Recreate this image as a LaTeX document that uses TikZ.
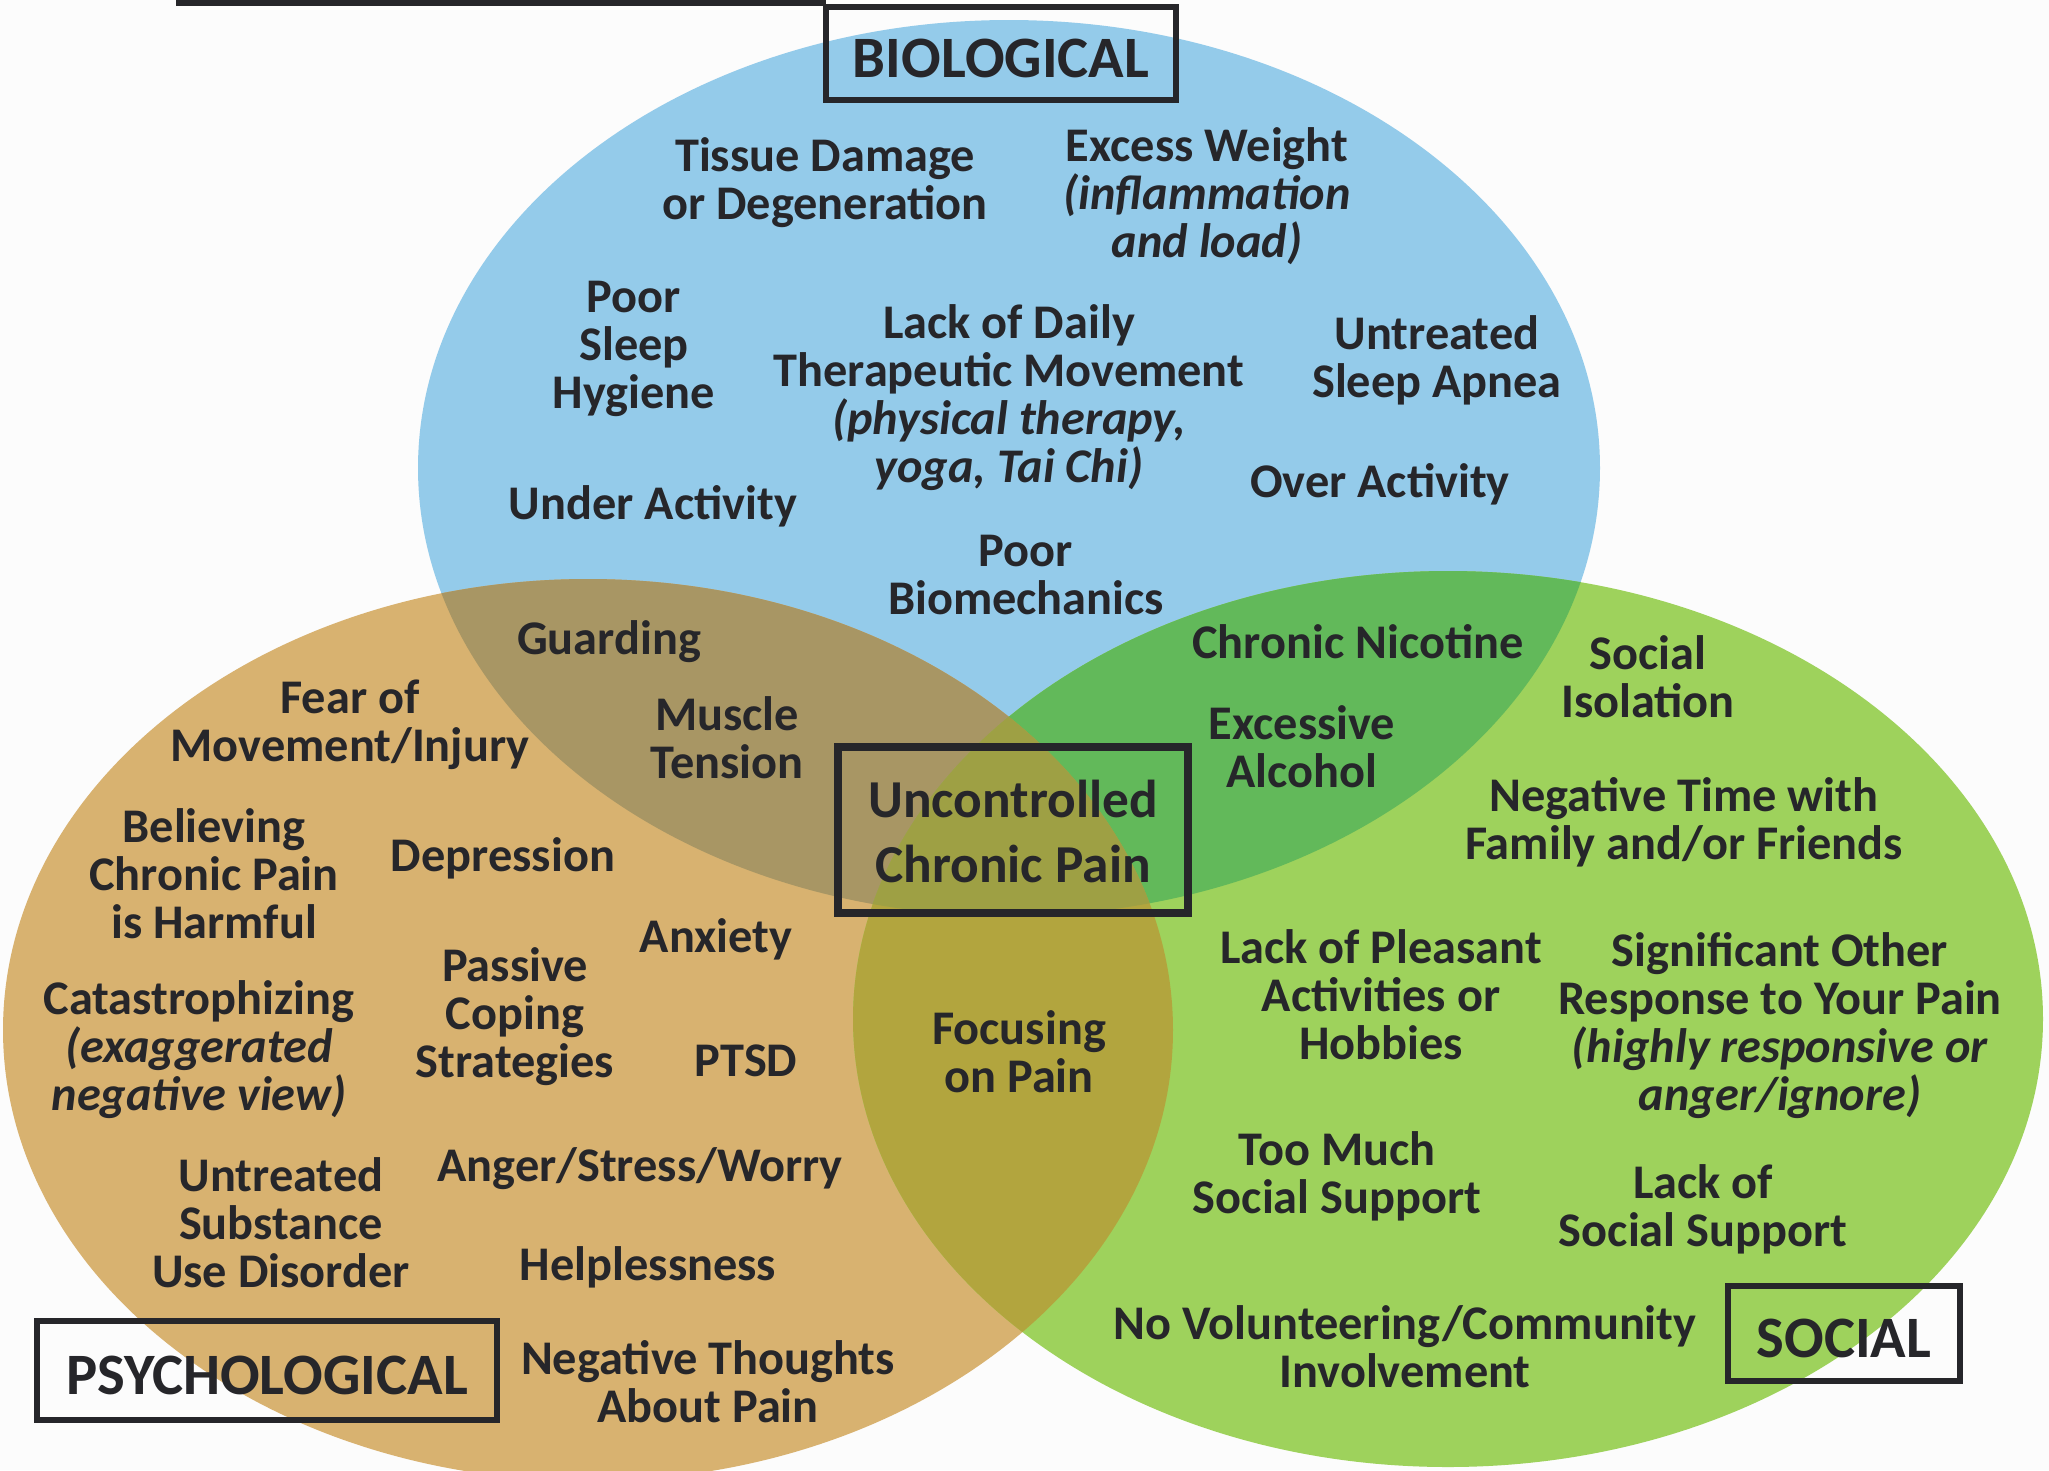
\documentclass[tikz,border=0pt]{standalone}
\usepackage{fontspec}
\setmainfont{Carlito}
\definecolor{bioC}{RGB}{148,203,234}
\definecolor{psyC}{RGB}{216,178,112}
\definecolor{socC}{RGB}{158,210,92}
\definecolor{bpC}{RGB}{168,150,100}
\definecolor{bsC}{RGB}{98,185,90}
\definecolor{psC}{RGB}{178,165,62}
\definecolor{allC}{RGB}{158,160,68}
\definecolor{ink}{RGB}{38,38,42}
\definecolor{paper}{RGB}{252,252,252}
% the three overlapping ellipses (pixel grid, y downward)
\newcommand{\bioshape}{(1009,468) ellipse [x radius=177.3pt, y radius=134.4pt]}
\newcommand{\psyshape}{(588,1030) ellipse [x radius=175.5pt, y radius=135.3pt]}
\newcommand{\socshape}{(1448,1019) ellipse [x radius=178.5pt, y radius=134.4pt]}
\begin{document}
\begin{tikzpicture}[x=0.3pt,y=-0.3pt,
  % each label node is placed at the centre of its last line
  lbl/.style={font=\fontsize{14.5}{14.4}\selectfont\bfseries, align=center,
    text=ink, inner sep=0pt, text height=12pt, text depth=2.66pt},
  core/.style={font=\fontsize{16}{19.5}\selectfont\bfseries, align=center,
    text=ink, inner sep=0pt, text height=13pt, text depth=2.7pt},
  tagbox/.style={draw=ink, line width=2pt, font=\fontsize{17.6}{20}\selectfont\bfseries,
    text=ink, inner sep=0pt, text height=14.1pt, text depth=0pt}]
\useasboundingbox (0,0) rectangle (2049,1470);
\fill[paper] (0,0) rectangle (2049,1470);

% base discs
\fill[bioC] \bioshape;
\fill[psyC] \psyshape;
\fill[socC] \socshape;
% pairwise overlaps
\begin{scope}
  \clip \bioshape;
  \fill[bpC] \psyshape;
\end{scope}
\begin{scope}
  \clip \bioshape;
  \fill[bsC] \socshape;
\end{scope}
\begin{scope}
  \clip \psyshape;
  \fill[psC] \socshape;
\end{scope}
% common core
\begin{scope}
  \clip \bioshape;
  \clip \psyshape;
  \fill[allC] \socshape;
\end{scope}

% rule at the top edge
\coordinate (ruleL) at (176,3);
\coordinate (ruleR) at (826,3);
\draw[ink, line width=2pt] (ruleL) -- (ruleR);

% category boxes
\node[tagbox, minimum width=105pt, minimum height=27.9pt] (bio) at (1001,53.5) {BIOLOGICAL};
\node[tagbox, minimum width=138pt, minimum height=29.7pt] (psy) at (267,1370.5) {PSYCHOLOGICAL};
\node[tagbox, minimum width=69.6pt, minimum height=28.5pt] (soc) at (1844,1333.5) {SOCIAL};
\node[draw=ink, line width=2.2pt, minimum width=105pt, minimum height=49.8pt] (corebox) at (1013,830) {};
\node[core] (pain) at (1013,865) {Uncontrolled\\Chronic Pain};

% biological factors
\node[lbl] (tissue) at (825,204) {Tissue Damage\\or Degeneration};
\node[lbl] (weight) at (1207,242) {Excess Weight\\\textit{(inflammation}\\\textit{and load)}};
\node[lbl] (sleep) at (634,393) {Poor\\Sleep\\Hygiene};
\node[lbl] (movement) at (1009,467) {Lack of Daily\\Therapeutic Movement\\\textit{(physical therapy,}\\\textit{yoga, Tai Chi)}};
\node[lbl] (apnea) at (1437,382) {Untreated\\Sleep Apnea};
\node[lbl] (under) at (653,504) {Under Activity};
\node[lbl] (over) at (1380,482) {Over Activity};
\node[lbl] (biomech) at (1026,599) {Poor\\Biomechanics};

% biological + psychological
\node[lbl] (guarding) at (609,639) {Guarding};
\node[lbl] (muscle) at (727,763) {Muscle\\Tension};

% biological + social
\node[lbl] (nicotine) at (1358,643) {Chronic Nicotine};
\node[lbl] (alcohol) at (1302,772) {Excessive\\Alcohol};

% psychological factors
\node[lbl] (fear) at (350,746) {Fear of\\Movement/Injury};
\node[lbl] (believe) at (214,923) {Believing\\Chronic Pain\\is Harmful};
\node[lbl] (depress) at (503,856) {Depression};
\node[lbl] (anxiety) at (716,937) {Anxiety};
\node[lbl] (passive) at (515,1062) {Passive\\Coping\\Strategies};
\node[lbl] (catast) at (199,1095) {Catastrophizing\\\textit{(exaggerated}\\\textit{negative view)}};
\node[lbl] (ptsd) at (746,1061) {PTSD};
\node[lbl] (substance) at (281,1272) {Untreated\\Substance\\Use Disorder};
\node[lbl] (anger) at (640,1166) {Anger/Stress/Worry};
\node[lbl] (helpless) at (648,1265) {Helplessness};
\node[lbl] (negthought) at (708,1407) {Negative Thoughts\\About Pain};

% psychological + social
\node[lbl] (focus) at (1019,1077) {Focusing\\on Pain};

% social factors
\node[lbl] (isolation) at (1648,702) {Social\\Isolation};
\node[lbl] (family) at (1684,844) {Negative Time with\\Family and/or Friends};
\node[lbl] (pleasant) at (1381,1044) {Lack of Pleasant\\Activities or\\Hobbies};
\node[lbl] (signif) at (1780,1095) {Significant Other\\Response to Your Pain\\\textit{(highly responsive or}\\\textit{anger/ignore)}};
\node[lbl] (toomuch) at (1337,1198) {Too Much\\Social Support};
\node[lbl] (lack) at (1703,1231) {Lack of\\Social Support};
\node[lbl] (volunteer) at (1405,1372) {No Volunteering/Community\\Involvement};
\end{tikzpicture}
\end{document}
